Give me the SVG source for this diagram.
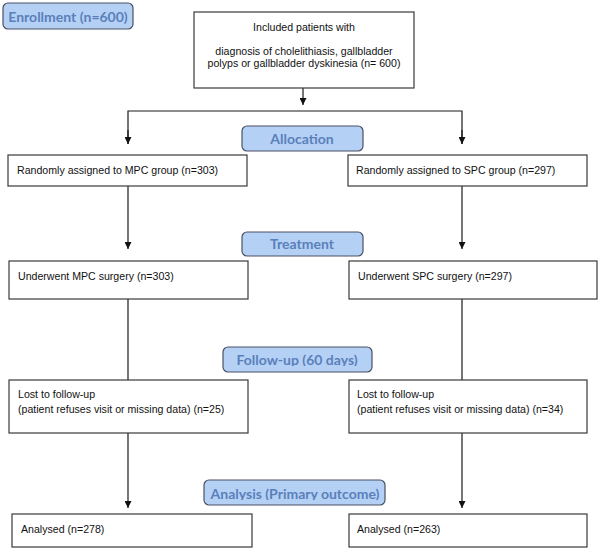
<svg xmlns="http://www.w3.org/2000/svg" width="600" height="550" viewBox="0 0 600 550">
<style>
.box{fill:#ffffff;stroke:#3a3a3a;stroke-width:1.2}
.lbl{fill:#b5d0f5;stroke:#4a5164;stroke-width:1.2}
.t{font-family:"Liberation Sans",Arial,sans-serif;font-size:10.6px;fill:#111}
.lt{font-family:Lato,"Open Sans",sans-serif;font-weight:bold;font-size:14px;fill:#5a80ba}
.ln{stroke:#1a1a1a;stroke-width:1.2;fill:none}
</style>
<defs>
<marker id="ah" viewBox="0 0 10 10" refX="10" refY="5" markerWidth="7" markerHeight="7" orient="auto" markerUnits="userSpaceOnUse">
<path d="M0,0 L10,5 L0,10 z" fill="#111"/>
</marker>
<clipPath id="cf"><rect x="223" y="347" width="149" height="19"/></clipPath>
<clipPath id="ca"><rect x="204" y="480" width="181" height="20"/></clipPath>
</defs>
<g id="connectors">
<line class="ln" x1="303" y1="88" x2="303" y2="105" marker-end="url(#ah)"/>
<polyline class="ln" points="128,144 128,111 462,111 462,144" />
<line class="ln" x1="128" y1="130" x2="128" y2="144" marker-end="url(#ah)"/>
<line class="ln" x1="462" y1="130" x2="462" y2="144" marker-end="url(#ah)"/>
<line class="ln" x1="128" y1="186" x2="128" y2="249" marker-end="url(#ah)"/>
<line class="ln" x1="462" y1="186" x2="462" y2="249" marker-end="url(#ah)"/>
<line class="ln" x1="128" y1="299" x2="128" y2="380"/>
<line class="ln" x1="462" y1="299" x2="462" y2="380"/>
<line class="ln" x1="128" y1="433" x2="128" y2="508" marker-end="url(#ah)"/>
<line class="ln" x1="462" y1="433" x2="462" y2="508" marker-end="url(#ah)"/>
</g>
<g id="enrollment">
<rect class="lbl" x="3" y="3" width="130" height="26" rx="5"/>
<text class="lt" x="68" y="21.5" text-anchor="middle">Enrollment (n=600)</text>
</g>
<g id="included">
<rect class="box" x="194" y="12" width="220" height="76"/>
<text class="t" x="304" y="31" text-anchor="middle">Included patients with</text>
<text class="t" x="304" y="55" text-anchor="middle">diagnosis of  cholelithiasis, gallbladder</text>
<text class="t" x="304" y="67" text-anchor="middle">polyps or gallbladder dyskinesia (n= 600)</text>
</g>
<g id="allocation">
<rect class="lbl" x="242" y="126" width="121" height="25" rx="5"/>
<text class="lt" x="302" y="144" text-anchor="middle">Allocation</text>
</g>
<g id="mpc-group">
<rect class="box" x="8" y="155" width="239" height="31"/>
<text class="t" x="17" y="174">Randomly assigned to MPC group (n=303)</text>
</g>
<g id="spc-group">
<rect class="box" x="348" y="155" width="239" height="31"/>
<text class="t" x="356" y="174">Randomly assigned to SPC group (n=297)</text>
</g>
<g id="treatment">
<rect class="lbl" x="242" y="232" width="121" height="24" rx="5"/>
<text class="lt" x="302" y="249" text-anchor="middle">Treatment</text>
</g>
<g id="mpc-surgery">
<rect class="box" x="9" y="261" width="239" height="38"/>
<text class="t" x="18" y="280">Underwent MPC surgery (n=303)</text>
</g>
<g id="spc-surgery">
<rect class="box" x="349" y="261" width="248" height="38"/>
<text class="t" x="358" y="280">Underwent SPC surgery (n=297)</text>
</g>
<g id="followup">
<rect class="lbl" x="223" y="347" width="149" height="25" rx="5"/>
<text class="lt" x="297" y="365" text-anchor="middle" clip-path="url(#cf)">Follow-up (60 days)</text>
</g>
<g id="mpc-lost">
<rect class="box" x="9" y="380" width="239" height="53"/>
<text class="t" x="18" y="398">Lost to follow-up</text>
<text class="t" x="18" y="413">(patient refuses visit or missing data) (n=25)</text>
</g>
<g id="spc-lost">
<rect class="box" x="349" y="380" width="238" height="53"/>
<text class="t" x="357" y="398">Lost to follow-up</text>
<text class="t" x="357" y="413">(patient refuses visit or missing data) (n=34)</text>
</g>
<g id="analysis">
<rect class="lbl" x="204" y="480" width="181" height="25" rx="5"/>
<text class="lt" x="295" y="499" text-anchor="middle" clip-path="url(#ca)">Analysis (Primary outcome)</text>
</g>
<g id="mpc-analysed">
<rect class="box" x="12" y="514" width="240" height="33"/>
<text class="t" x="21" y="533">Analysed (n=278)</text>
</g>
<g id="spc-analysed">
<rect class="box" x="349" y="514" width="238" height="33"/>
<text class="t" x="357" y="533">Analysed (n=263)</text>
</g>
</svg>
